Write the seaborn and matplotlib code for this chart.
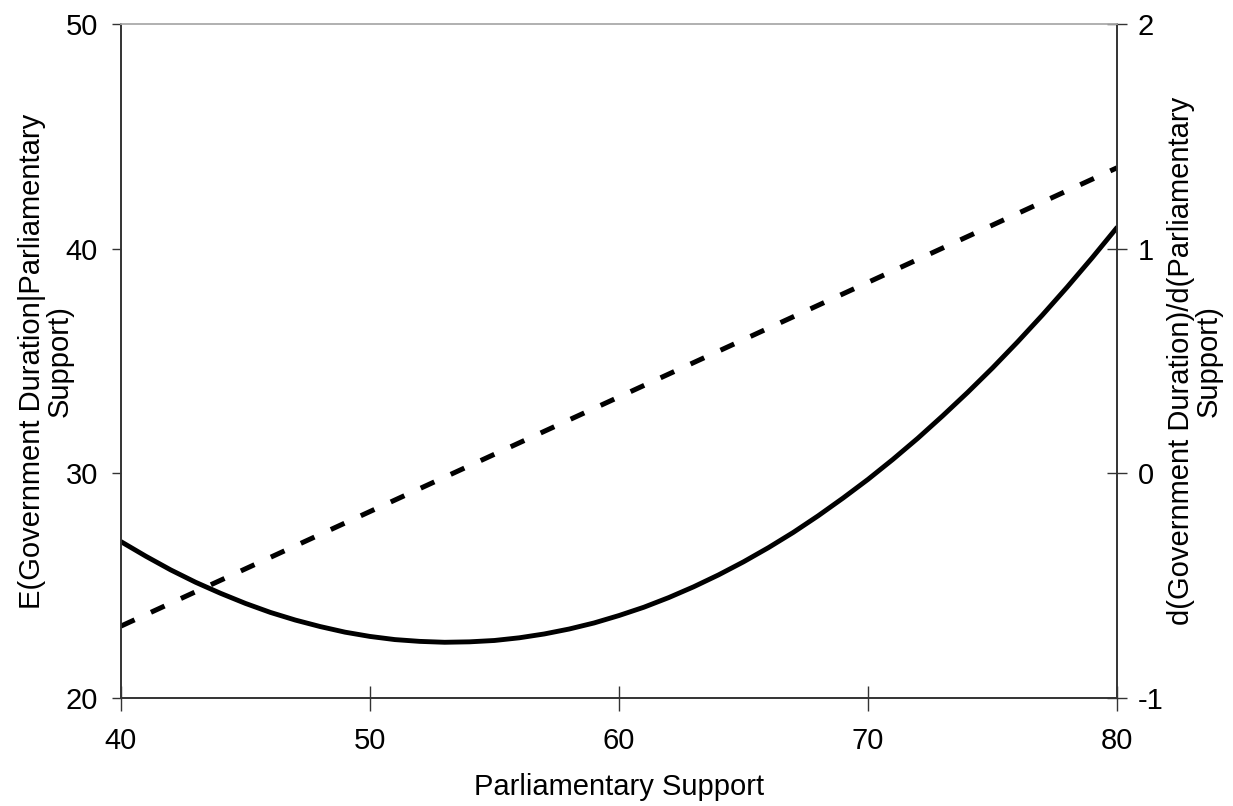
import matplotlib
matplotlib.use("Agg")
import matplotlib.pyplot as plt
import seaborn as sns
import pandas as pd

# Parliamentary support (x) and expected government duration (left axis)
support = list(range(40, 81))
expected_duration = [26.96, 26.31, 25.70, 25.15, 24.66, 24.21, 23.81, 23.47,
                     23.18, 22.93, 22.74, 22.60, 22.52, 22.48, 22.50, 22.56,
                     22.68, 22.85, 23.07, 23.34, 23.67, 24.04, 24.47, 24.95,
                     25.48, 26.06, 26.69, 27.37, 28.11, 28.90, 29.73, 30.62,
                     31.56, 32.56, 33.60, 34.69, 35.84, 37.04, 38.29, 39.59,
                     40.94]

# Marginal effect of support on duration (right axis)
support_marginal = [40, 50, 60, 70, 80]
marginal_effect = [-0.68, -0.17, 0.34, 0.85, 1.36]

left_ticks = [20, 30, 40, 50]
right_ticks = [-1, 0, 1, 2]
x_ticks = [40, 50, 60, 70, 80]

left_label = ["E(Government Duration|Parliamentary", "Support)"]
right_label = ["d(Government Duration)/d(Parliamentary", "Support)"]

sns.set_theme(style="white")
plt.rcParams["font.family"] = ["Liberation Sans", "DejaVu Sans"]

df_level = pd.DataFrame({"support": support, "duration": expected_duration})
df_slope = pd.DataFrame({"support": support_marginal, "effect": marginal_effect})

fig = plt.figure(figsize=(12.33, 8.06), dpi=100)
ax = fig.add_axes([0.0981, 0.134, 0.8078, 0.8362])
ax2 = ax.twinx()

sns.lineplot(data=df_level, x="support", y="duration", ax=ax,
             color="black", linewidth=3.5)
sns.lineplot(data=df_slope, x="support", y="effect", ax=ax2,
             color="black", linewidth=3.6)
ax2.lines[0].set_dashes([3.0, 3.6])
ax2.lines[0].set_dash_capstyle("butt")

ax.set_xlim(40, 80)
ax.set_ylim(20, 50)
ax2.set_ylim(-1, 2)
ax.set_xticks(x_ticks)
ax.set_yticks(left_ticks)
ax2.set_yticks(right_ticks)
ax.set_yticklabels([str(t) for t in left_ticks])
ax2.set_yticklabels([str(t) for t in right_ticks])

fs = 21
ax.set_xlabel("Parliamentary Support", fontsize=fs, labelpad=13, color="black")
ax.set_ylabel("")
ax2.set_ylabel("")

# two-line axis titles, each line placed on its own
px_w = 996.0
for i, (line, xpix) in enumerate(zip(left_label, [32, 60])):
    ax.text((xpix - 121) / px_w, 0.5, line, transform=ax.transAxes,
            rotation=90, ha="center", va="center", fontsize=fs, color="black")
for i, (line, xpix) in enumerate(zip(right_label, [1181, 1209])):
    ax.text((xpix - 121) / px_w, 0.5, line, transform=ax.transAxes,
            rotation=90, ha="center", va="center", fontsize=fs, color="black")

ax.tick_params(axis="x", direction="inout", length=18, width=1,
               color="#333333", labelsize=fs, labelcolor="black", pad=12,
               bottom=True)
ax.tick_params(axis="y", direction="out", length=6.5, width=1,
               color="#333333", labelsize=fs, labelcolor="black", pad=10,
               left=True)
ax2.tick_params(axis="y", direction="inout", length=14, width=1,
                color="#333333", labelsize=fs, labelcolor="black", pad=8,
                right=True)

for a in (ax, ax2):
    for side in ("left", "right", "bottom"):
        a.spines[side].set_color("#333333")
        a.spines[side].set_linewidth(1.2)
    a.spines["top"].set_color("#b0b0b0")
    a.spines["top"].set_linewidth(1.2)
    a.grid(False)

fig.savefig("out.png", dpi=100, facecolor="white")
